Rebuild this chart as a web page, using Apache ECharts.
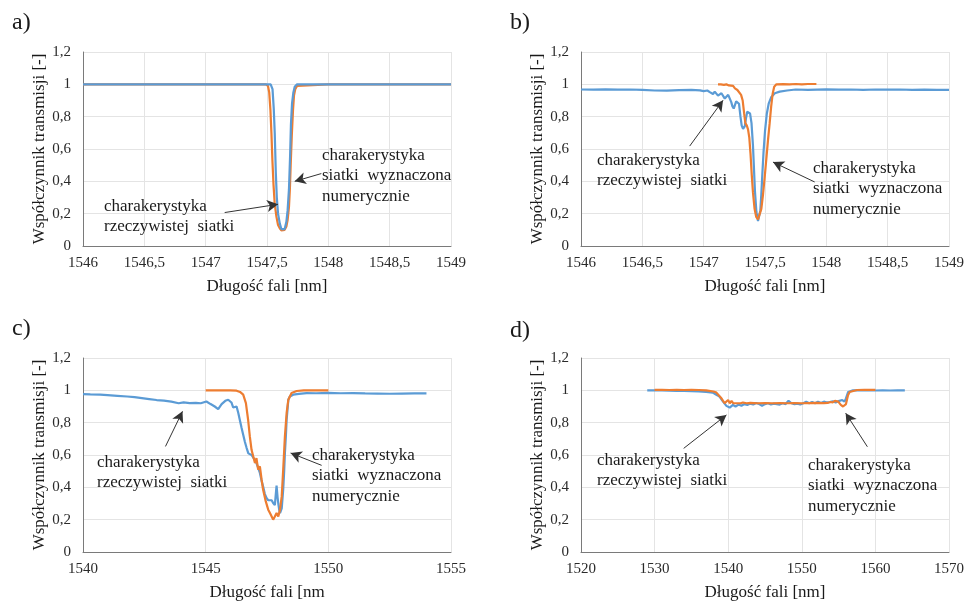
<!DOCTYPE html>
<html><head><meta charset="utf-8">
<script src="https://cdn.jsdelivr.net/npm/echarts@6/dist/echarts.min.js"></script>
<style>html,body{margin:0;padding:0;background:#fff}#c{width:967px;height:603px}</style>
</head><body><div id="c"></div>
<script>
// ---------- DATA ----------
const yTicks = [0, 0.2, 0.4, 0.6, 0.8, 1, 1.2];
const xRangeA = [1546, 1549, 0.5];
const xRangeB = [1546, 1549, 0.5];
const xRangeC = [1540, 1555, 5];
const xRangeD = [1520, 1570, 10];
const panelLabels = ['a)', 'b)', 'c)', 'd)'];
const yTitle = 'Współczynnik transmisji [-]';
const xTitles = ['Długość fali [nm]', 'Długość fali [nm]', 'Długość fali [nm', 'Długość fali [nm]'];
const noteReal = 'charakerystyka\nrzeczywistej  siatki';
const noteNum = 'charakerystyka\nsiatki  wyznaczona\nnumerycznie';

// panel a
const aBlue = [[1546,1],[1546.5,1],[1547,1],[1547.5,1],[1547.53,1.0],[1547.545,0.97],[1547.555,0.85],[1547.563,0.70],[1547.572,0.45],[1547.58,0.30],[1547.59,0.20],[1547.604,0.14],[1547.617,0.105],[1547.63,0.093],[1547.644,0.105],[1547.658,0.15],[1547.668,0.22],[1547.679,0.35],[1547.688,0.55],[1547.695,0.75],[1547.704,0.88],[1547.715,0.95],[1547.726,0.985],[1547.745,1.0],[1548,1],[1548.5,1],[1549,1]];
const aOrange = [[1546,1],[1547,1],[1547.49,1],[1547.508,0.99],[1547.518,0.95],[1547.528,0.84],[1547.536,0.70],[1547.544,0.53],[1547.553,0.38],[1547.563,0.26],[1547.577,0.18],[1547.59,0.13],[1547.604,0.11],[1547.617,0.097],[1547.63,0.093],[1547.644,0.10],[1547.658,0.12],[1547.668,0.16],[1547.679,0.24],[1547.687,0.36],[1547.693,0.50],[1547.702,0.68],[1547.712,0.84],[1547.72,0.93],[1547.73,0.97],[1547.745,0.99],[1547.76,1],[1548,1],[1549,1]];
const aArrows = [[[1547.943,0.448],[1547.726,0.400]],[[1547.155,0.207],[1547.590,0.258]]];

// panel b
const bBlue = [[1546,0.968],[1546.1,0.967],[1546.2,0.969],[1546.3,0.967],[1546.4,0.968],[1546.5,0.966],[1546.6,0.962],[1546.7,0.961],[1546.8,0.964],[1546.9,0.966],[1546.97,0.963],[1547.0,0.958],[1547.03,0.962],[1547.05,0.952],[1547.076,0.94],[1547.09,0.955],[1547.103,0.948],[1547.117,0.93],[1547.13,0.922],[1547.145,0.945],[1547.158,0.94],[1547.172,0.912],[1547.185,0.915],[1547.2,0.935],[1547.212,0.928],[1547.225,0.89],[1547.234,0.865],[1547.245,0.85],[1547.253,0.86],[1547.265,0.895],[1547.275,0.9],[1547.288,0.88],[1547.3,0.80],[1547.31,0.745],[1547.321,0.725],[1547.335,0.74],[1547.345,0.79],[1547.355,0.83],[1547.367,0.835],[1547.378,0.82],[1547.39,0.76],[1547.402,0.62],[1547.41,0.48],[1547.418,0.34],[1547.43,0.21],[1547.443,0.155],[1547.452,0.165],[1547.462,0.22],[1547.47,0.32],[1547.478,0.44],[1547.488,0.58],[1547.5,0.71],[1547.515,0.82],[1547.53,0.88],[1547.55,0.92],[1547.58,0.945],[1547.62,0.955],[1547.68,0.962],[1547.75,0.968],[1547.85,0.966],[1548,0.969],[1548.1,0.967],[1548.2,0.968],[1548.3,0.966],[1548.4,0.968],[1548.5,0.967],[1548.6,0.968],[1548.7,0.966],[1548.8,0.967],[1548.9,0.966],[1549,0.966]];
const bOrange = [[1547.117,1.0],[1547.14,1.0],[1547.165,0.997],[1547.185,1.0],[1547.205,0.993],[1547.22,0.998],[1547.24,0.99],[1547.255,0.975],[1547.275,0.965],[1547.29,0.955],[1547.305,0.935],[1547.318,0.90],[1547.33,0.82],[1547.34,0.76],[1547.352,0.745],[1547.362,0.72],[1547.372,0.67],[1547.382,0.57],[1547.392,0.44],[1547.402,0.33],[1547.415,0.23],[1547.428,0.18],[1547.443,0.165],[1547.457,0.175],[1547.47,0.23],[1547.484,0.32],[1547.498,0.43],[1547.511,0.54],[1547.525,0.66],[1547.538,0.76],[1547.55,0.86],[1547.562,0.94],[1547.575,0.985],[1547.593,1.0],[1547.65,1.001],[1547.7,1.0],[1547.75,1.002],[1547.8,1.0],[1547.85,1.002],[1547.919,1.002]];
const bArrows = [[[1546.886,0.618],[1547.158,0.901]],[[1547.905,0.396],[1547.565,0.519]]];

// panel c
const cBlue = [[1540,0.977],[1540.3,0.975],[1540.7,0.973],[1541.0,0.970],[1541.4,0.966],[1541.8,0.962],[1542.1,0.958],[1542.4,0.952],[1542.7,0.946],[1543.0,0.940],[1543.3,0.936],[1543.6,0.930],[1543.9,0.920],[1544.1,0.925],[1544.35,0.921],[1544.6,0.923],[1544.8,0.92],[1545.03,0.931],[1545.2,0.915],[1545.37,0.90],[1545.51,0.884],[1545.65,0.915],[1545.8,0.935],[1545.92,0.942],[1546.05,0.925],[1546.12,0.894],[1546.2,0.905],[1546.26,0.90],[1546.33,0.86],[1546.39,0.818],[1546.46,0.77],[1546.53,0.725],[1546.6,0.68],[1546.67,0.643],[1546.74,0.61],[1546.8,0.612],[1546.87,0.60],[1546.94,0.602],[1547.0,0.57],[1547.07,0.55],[1547.14,0.52],[1547.21,0.489],[1547.28,0.44],[1547.34,0.406],[1547.41,0.36],[1547.48,0.334],[1547.55,0.32],[1547.62,0.313],[1547.69,0.32],[1547.75,0.303],[1547.82,0.29],[1547.86,0.36],[1547.89,0.41],[1547.93,0.34],[1547.96,0.30],[1548.0,0.26],[1548.03,0.241],[1548.07,0.25],[1548.1,0.27],[1548.16,0.385],[1548.2,0.50],[1548.23,0.612],[1548.27,0.72],[1548.3,0.818],[1548.33,0.87],[1548.37,0.942],[1548.43,0.962],[1548.5,0.968],[1548.57,0.973],[1548.8,0.978],[1549.11,0.983],[1549.5,0.982],[1550,0.984],[1550.5,0.982],[1551,0.983],[1551.5,0.981],[1552,0.980],[1552.5,0.979],[1553,0.980],[1553.5,0.981],[1554,0.981]];
const cOrange = [[1545,1.0],[1545.5,1.0],[1546,1.0],[1546.26,0.998],[1546.4,0.99],[1546.53,0.973],[1546.64,0.921],[1546.73,0.818],[1546.8,0.715],[1546.87,0.632],[1546.94,0.591],[1547.01,0.55],[1547.07,0.581],[1547.14,0.509],[1547.21,0.53],[1547.28,0.447],[1547.34,0.386],[1547.45,0.313],[1547.55,0.262],[1547.62,0.241],[1547.69,0.22],[1547.75,0.20],[1547.79,0.19],[1547.82,0.22],[1547.89,0.241],[1547.96,0.22],[1548.03,0.262],[1548.1,0.344],[1548.16,0.509],[1548.23,0.715],[1548.3,0.86],[1548.37,0.942],[1548.5,0.983],[1548.71,0.996],[1549,1.0],[1549.5,1.0],[1550,1.0]];
const cArrows = [[[1543.362,0.653],[1544.056,0.870]],[[1549.727,0.536],[1548.462,0.612]]];

// panel d
const dBlue = [[1529,1.0],[1530,1.0],[1531,0.999],[1532,0.998],[1533,0.996],[1534,0.996],[1535,0.995],[1536,0.993],[1537,0.99],[1537.9,0.986],[1538.5,0.97],[1538.85,0.96],[1539.3,0.93],[1539.76,0.904],[1540.2,0.893],[1540.65,0.91],[1541.0,0.9],[1541.4,0.912],[1541.8,0.905],[1542.2,0.915],[1542.6,0.91],[1543,0.918],[1543.4,0.912],[1543.8,0.922],[1544.2,0.915],[1544.6,0.905],[1545,0.915],[1545.4,0.92],[1545.8,0.912],[1546.2,0.918],[1546.6,0.915],[1547,0.912],[1547.4,0.92],[1547.8,0.915],[1548.2,0.935],[1548.6,0.92],[1549,0.915],[1549.4,0.918],[1549.8,0.912],[1550.2,0.92],[1550.6,0.93],[1551,0.92],[1551.4,0.928],[1551.8,0.92],[1552.2,0.93],[1552.6,0.922],[1553,0.93],[1553.4,0.925],[1553.8,0.928],[1554.2,0.932],[1554.6,0.925],[1555.1,0.935],[1555.5,0.94],[1555.8,0.93],[1556.0,0.95],[1556.3,0.99],[1556.95,1.0],[1558,1.0],[1559,1.001],[1560,0.999],[1561,1.0],[1562,0.999],[1563,1.0],[1564,1.0]];
const dOrange = [[1530,1.003],[1531,1.003],[1532,1.002],[1533,1.003],[1534,1.002],[1535,1.003],[1536,1.002],[1537,1.0],[1538,0.993],[1538.4,0.986],[1538.8,0.965],[1539.08,0.951],[1539.3,0.935],[1539.52,0.921],[1539.75,0.915],[1539.99,0.94],[1540.22,0.92],[1540.45,0.935],[1540.67,0.921],[1540.9,0.932],[1541.15,0.92],[1541.4,0.928],[1541.7,0.92],[1542,0.925],[1542.5,0.92],[1543,0.922],[1544,0.92],[1545,0.921],[1546,0.92],[1547,0.921],[1548,0.92],[1549,0.921],[1550,0.92],[1551,0.921],[1552,0.922],[1553,0.921],[1553.5,0.922],[1553.9,0.928],[1554.2,0.925],[1554.5,0.935],[1554.7,0.94],[1554.95,0.93],[1555.3,0.91],[1555.6,0.90],[1556.0,0.915],[1556.28,0.97],[1556.5,0.99],[1556.73,1.0],[1557.5,1.002],[1558.5,1.003],[1559.5,1.003],[1560,1.003]];
const dArrows = [[[1533.95,0.641],[1539.76,0.848]],[[1558.91,0.651],[1555.96,0.859]]];

// ---------- LAYOUT / STYLE ----------
const FONT = 'Liberation Serif';
const BLUE = '#5B9BD5', ORANGE = '#ED7D31';
const grids = [
  {left: 83, top: 52, width: 368, height: 194},
  {left: 581, top: 52, width: 368, height: 194},
  {left: 83, top: 358, width: 368, height: 194},
  {left: 581, top: 358, width: 368, height: 194}
];
const ranges = [xRangeA, xRangeB, xRangeC, xRangeD];
const comma = v => String(+(+v).toFixed(2)).replace('.', ',');

const xAxes = ranges.map((r, i) => ({
  type: 'value', gridIndex: i, min: r[0], max: r[1], interval: r[2],
  name: xTitles[i], nameLocation: 'middle', nameGap: 32,
  nameTextStyle: {fontFamily: FONT, fontSize: 17, color: '#1a1a1a'},
  axisLine: {show: true, lineStyle: {color: '#7a7a7a', width: 1}},
  axisTick: {show: false},
  axisLabel: {fontFamily: FONT, fontSize: 15, color: '#2a2a2a', margin: 10, formatter: comma},
  splitLine: {show: true, lineStyle: {color: '#e4e4e4', width: 1}}
}));
const yAxes = grids.map((g, i) => ({
  type: 'value', gridIndex: i, min: yTicks[0], max: yTicks[yTicks.length - 1], interval: yTicks[1] - yTicks[0],
  name: yTitle, nameLocation: 'middle', nameGap: 34,
  nameTextStyle: {fontFamily: FONT, fontSize: 17, color: '#1a1a1a'},
  axisLine: {show: true, lineStyle: {color: '#7a7a7a', width: 1}},
  axisTick: {show: false},
  axisLabel: {fontFamily: FONT, fontSize: 15, color: '#2a2a2a', margin: 12, formatter: comma},
  splitLine: {show: true, lineStyle: {color: '#e4e4e4', width: 1}}
}));

function line(data, color, i, arrows) {
  const s = {
    type: 'line', xAxisIndex: i, yAxisIndex: i, data: data, showSymbol: false, symbol: 'none',
    lineStyle: {color: color, width: 2.2}, itemStyle: {color: color}, animation: false, silent: true
  };
  if (arrows) {
    s.markLine = {
      silent: true, animation: false, symbol: ['none', 'arrow'], symbolSize: [9, 11],
      label: {show: false}, lineStyle: {color: '#333', width: 1, type: 'solid'},
      emphasis: {disabled: true},
      data: arrows.map(a => [{coord: a[0]}, {coord: a[1]}])
    };
  }
  return s;
}
const series = [
  line(aOrange, ORANGE, 0, null), line(aBlue, BLUE, 0, aArrows),
  line(bBlue, BLUE, 1, null), line(bOrange, ORANGE, 1, bArrows),
  line(cBlue, BLUE, 2, null), line(cOrange, ORANGE, 2, cArrows),
  line(dBlue, BLUE, 3, null), line(dOrange, ORANGE, 3, dArrows)
];

function txt(x, y, s, size, lh) {
  return {type: 'text', x: x, y: y, z: 100, zlevel: 0, silent: true,
    style: {text: s, fontFamily: FONT, fontSize: size, fill: '#1a1a1a', lineHeight: lh, verticalAlign: 'top', align: 'left'}};
}
const graphic = [
  txt(12, 10, panelLabels[0], 24, 26), txt(510, 10, panelLabels[1], 24, 26),
  txt(12, 316, panelLabels[2], 24, 26), txt(510, 318, panelLabels[3], 24, 26),
  txt(322, 145, noteNum, 17, 20.5), txt(104, 196, noteReal, 17, 20.5),
  txt(597, 150, noteReal, 17, 20.5), txt(813, 158, noteNum, 17, 20.5),
  txt(97, 452, noteReal, 17, 20.5), txt(312, 445, noteNum, 17, 20.5),
  txt(597, 450, noteReal, 17, 20.5), txt(808, 455, noteNum, 17, 20.5)
];

const chart = echarts.init(document.getElementById('c'), null, {renderer: 'canvas'});
chart.setOption({
  animation: false, backgroundColor: '#fff',
  grid: grids, xAxis: xAxes, yAxis: yAxes, series: series, graphic: graphic
});
</script></body></html>
